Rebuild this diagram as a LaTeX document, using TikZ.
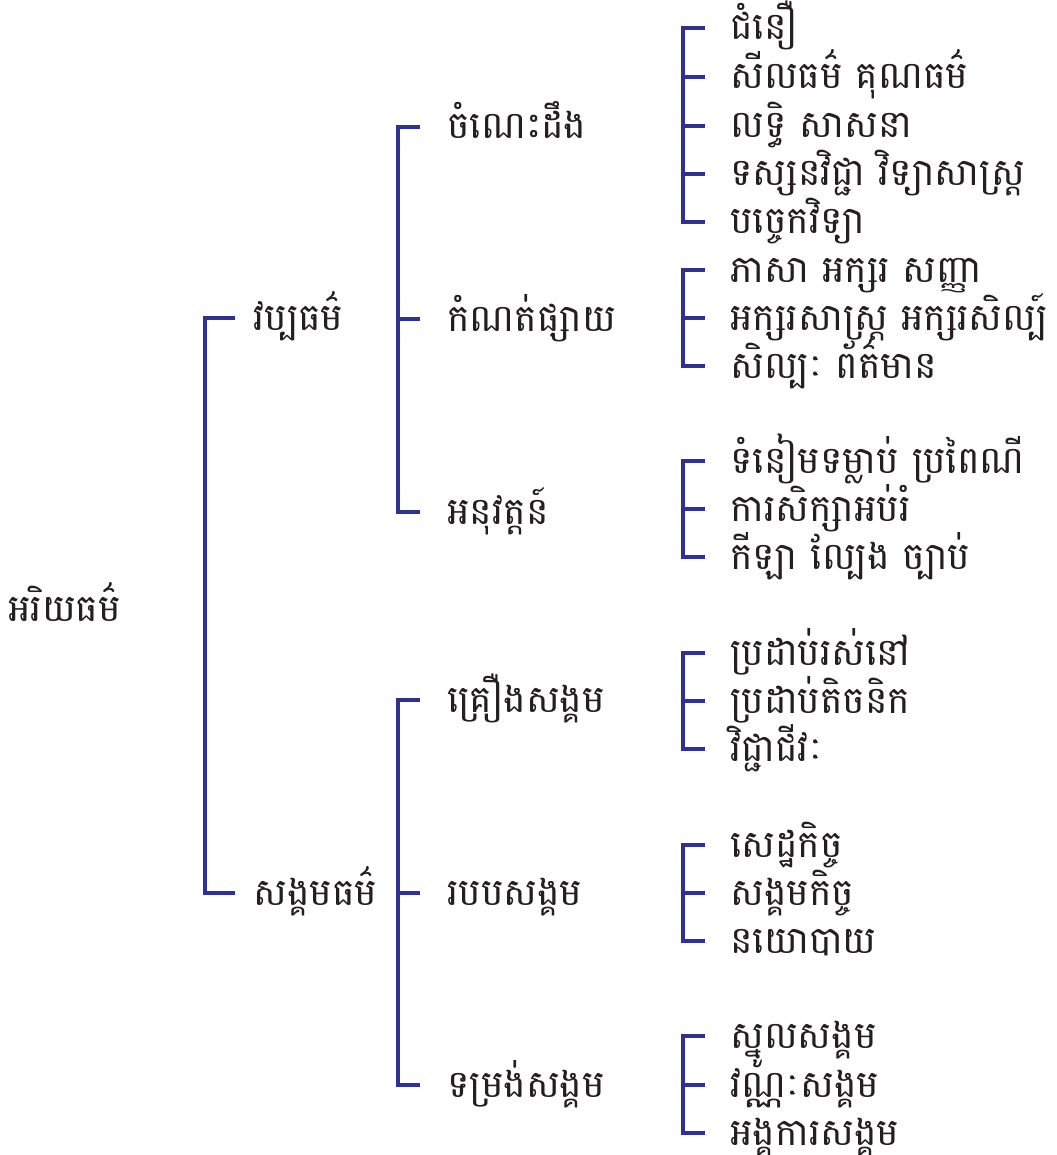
\documentclass[tikz,border=0pt]{standalone}
\usepackage{fontspec}
\newfontfamily\khmerfont[Script=Khmer]{Battambang}
\usetikzlibrary{calc}
\definecolor{treeblue}{HTML}{2E3192}
\definecolor{inkgray}{HTML}{231F20}

\begin{document}
\begin{tikzpicture}[x=0.02cm,y=-0.02cm]
  \tikzstyle{lbl}=[anchor=base west,inner sep=0pt,text=inkgray,font=\khmerfont\fontsize{21.5}{25}\selectfont]
  \tikzstyle{brk}=[draw=treeblue,line width=2.8pt]
  \useasboundingbox (0,0) rectangle (1057,1155);
  % root and first level
  \node[lbl] (ariy) at (8,621) {អរិយធម៌};
  \node[lbl] (vap) at (253,330) {វប្បធម៌};
  \node[lbl] (sng) at (253,905) {សង្គមធម៌};
  % second level
  \node[lbl] (cham) at (447,139) {ចំណេះដឹង};
  \node[lbl] (kam) at (447,331) {កំណត់ផ្សាយ};
  \node[lbl] (anu) at (447,524) {អនុវត្តន៍};
  \node[lbl] (kreu) at (447,712) {គ្រឿងសង្គម};
  \node[lbl] (robb) at (447,905) {របបសង្គម};
  \node[lbl] (tomr) at (447,1097) {ទម្រង់សង្គម};
  % leaves
  \node[lbl] (c1) at (730,40) {ជំនឿ};
  \node[lbl] (c2) at (730,89) {សីលធម៌ គុណធម៌};
  \node[lbl] (c3) at (730,138) {លទ្ធិ សាសនា};
  \node[lbl] (c4) at (730,186) {ទស្សនវិជ្ជា វិទ្យាសាស្ត្រ};
  \node[lbl] (c5) at (730,234) {បច្ចេកវិទ្យា};
  \node[lbl] (k1) at (730,282) {ភាសា អក្សរ សញ្ញា};
  \node[lbl] (k2) at (730,330) {អក្សរសាស្ត្រ អក្សរសិល្ប៍};
  \node[lbl] (k3) at (730,378) {សិល្បៈ ព័ត៌មាន};
  \node[lbl] (a1) at (730,473) {ទំនៀមទម្លាប់ ប្រពៃណី};
  \node[lbl] (a2) at (730,521) {ការសិក្សាអប់រំ};
  \node[lbl] (a3) at (730,569) {កីឡា ល្បែង ច្បាប់};
  \node[lbl] (g1) at (730,665) {ប្រដាប់រស់នៅ};
  \node[lbl] (g2) at (730,713) {ប្រដាប់តិចនិក};
  \node[lbl] (g3) at (730,761) {វិជ្ជាជីវៈ};
  \node[lbl] (r1) at (730,857) {សេដ្ឋកិច្ច};
  \node[lbl] (r2) at (730,905) {សង្គមកិច្ច};
  \node[lbl] (r3) at (730,953) {នយោបាយ};
  \node[lbl] (t1) at (730,1048) {ស្នូលសង្គម};
  \node[lbl] (t2) at (730,1097) {វណ្ណៈសង្គម};
  \node[lbl] (t3) at (730,1145) {អង្គការសង្គម};
  % brackets
  \draw[brk] ($(vap.base west)+(-18,-12)$) -| ($(sng.base west)+(-48,-12)$) -- ($(sng.base west)+(-18,-12)$);
  \draw[brk] ($(cham.base west)+(-27,-12)$) -| ($(anu.base west)+(-49,-12)$) -- ($(anu.base west)+(-27,-12)$);
  \draw[brk] ($(kam.base west)+(-49,-12)$) -- ($(kam.base west)+(-27,-12)$);
  \draw[brk] ($(kreu.base west)+(-27,-12)$) -| ($(tomr.base west)+(-49,-12)$) -- ($(tomr.base west)+(-27,-12)$);
  \draw[brk] ($(robb.base west)+(-49,-12)$) -- ($(robb.base west)+(-27,-12)$);
  \draw[brk] ($(c1.base west)+(-25,-12)$) -| ($(c5.base west)+(-47,-12)$) -- ($(c5.base west)+(-25,-12)$);
  \draw[brk] ($(c2.base west)+(-47,-12)$) -- ($(c2.base west)+(-25,-12)$);
  \draw[brk] ($(c3.base west)+(-47,-12)$) -- ($(c3.base west)+(-25,-12)$);
  \draw[brk] ($(c4.base west)+(-47,-12)$) -- ($(c4.base west)+(-25,-12)$);
  \draw[brk] ($(k1.base west)+(-25,-12)$) -| ($(k3.base west)+(-47,-12)$) -- ($(k3.base west)+(-25,-12)$);
  \draw[brk] ($(k2.base west)+(-47,-12)$) -- ($(k2.base west)+(-25,-12)$);
  \draw[brk] ($(a1.base west)+(-25,-12)$) -| ($(a3.base west)+(-47,-12)$) -- ($(a3.base west)+(-25,-12)$);
  \draw[brk] ($(a2.base west)+(-47,-12)$) -- ($(a2.base west)+(-25,-12)$);
  \draw[brk] ($(g1.base west)+(-25,-12)$) -| ($(g3.base west)+(-47,-12)$) -- ($(g3.base west)+(-25,-12)$);
  \draw[brk] ($(g2.base west)+(-47,-12)$) -- ($(g2.base west)+(-25,-12)$);
  \draw[brk] ($(r1.base west)+(-25,-12)$) -| ($(r3.base west)+(-47,-12)$) -- ($(r3.base west)+(-25,-12)$);
  \draw[brk] ($(r2.base west)+(-47,-12)$) -- ($(r2.base west)+(-25,-12)$);
  \draw[brk] ($(t1.base west)+(-25,-12)$) -| ($(t3.base west)+(-47,-12)$) -- ($(t3.base west)+(-25,-12)$);
  \draw[brk] ($(t2.base west)+(-47,-12)$) -- ($(t2.base west)+(-25,-12)$);
\end{tikzpicture}
\end{document}
